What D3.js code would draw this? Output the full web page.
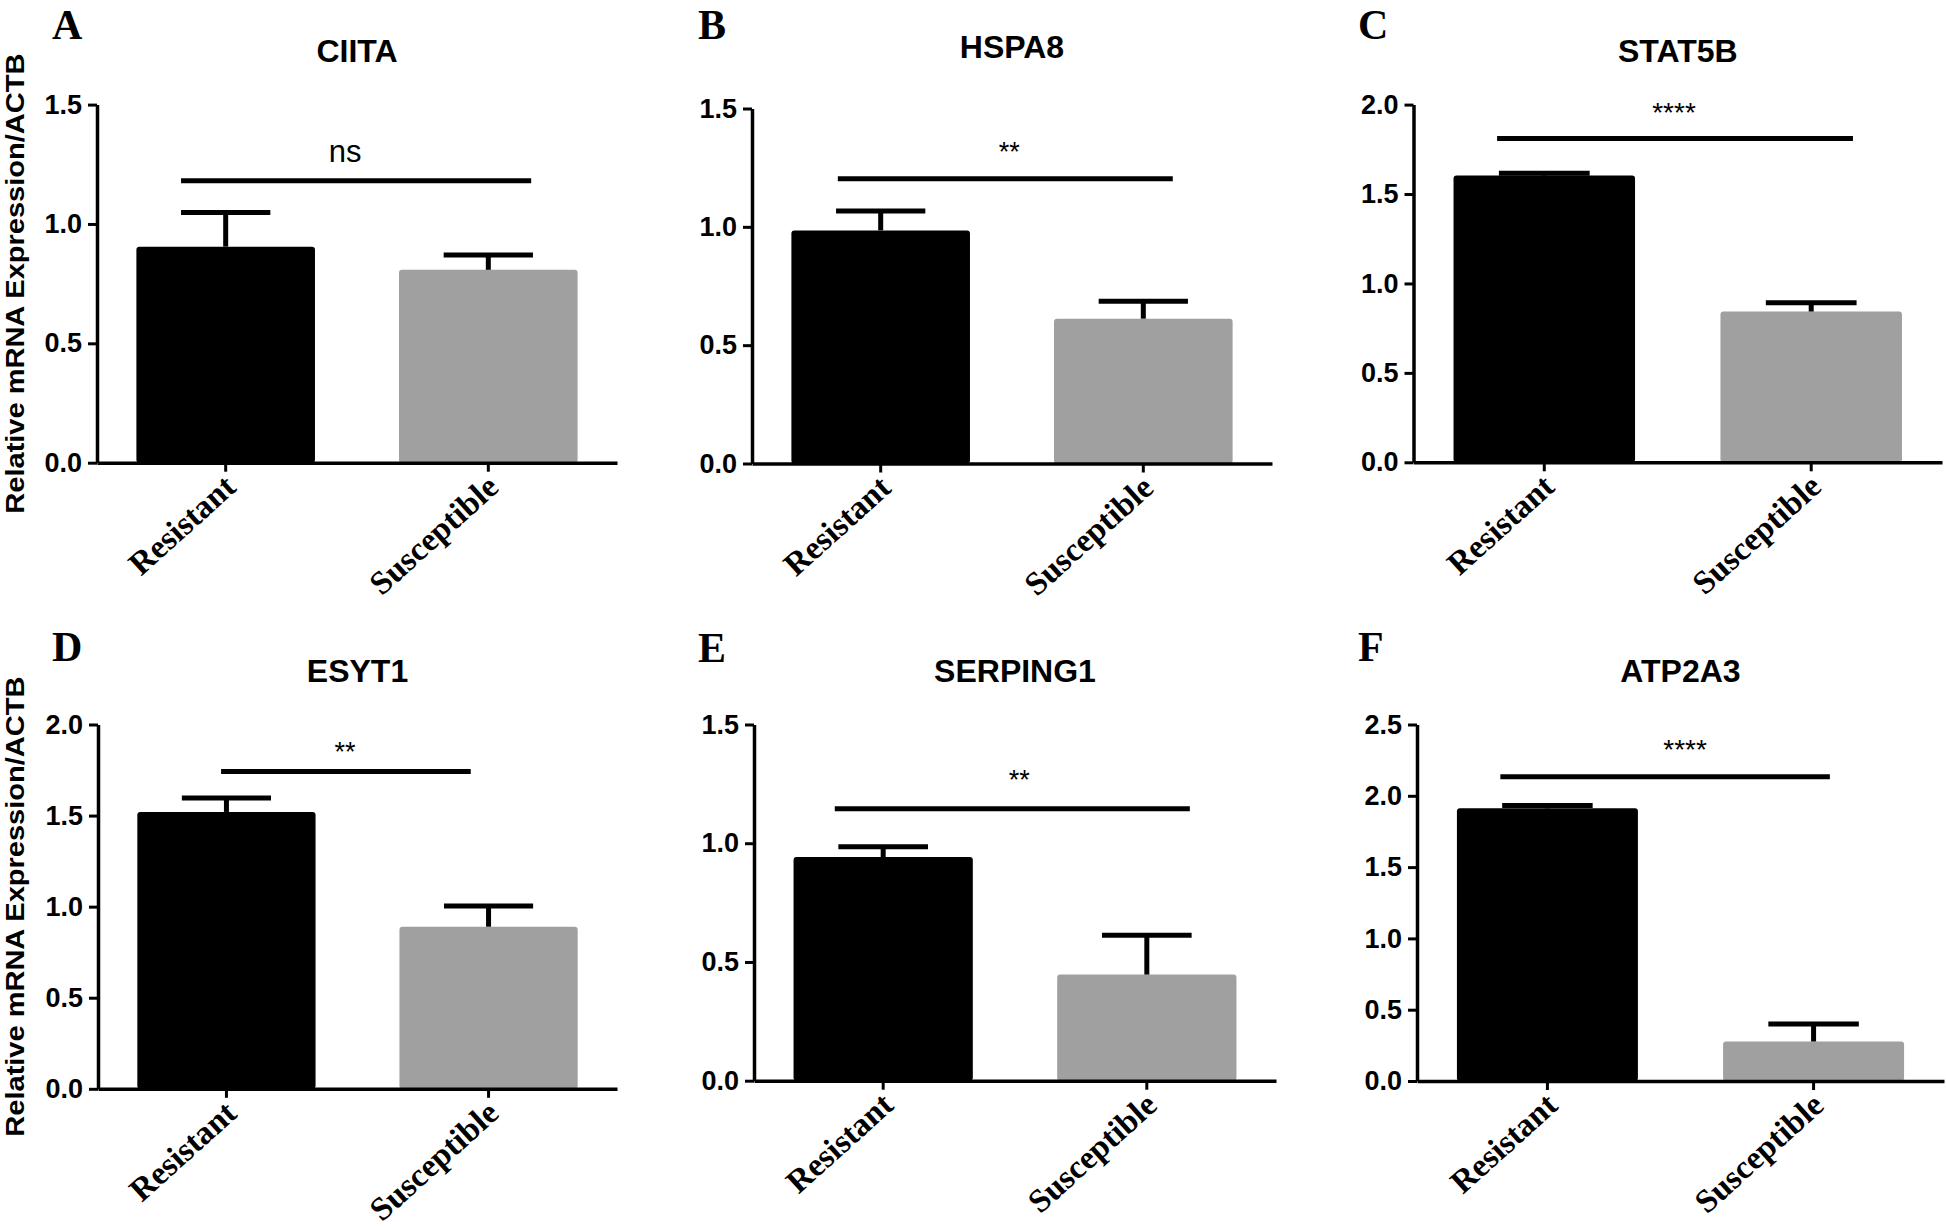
<!DOCTYPE html>
<html>
<head>
<meta charset="utf-8">
<script src="https://cdn.jsdelivr.net/npm/d3@7"></script>
<style>
  html, body { margin: 0; padding: 0; background: #fff; }
  svg { display: block; }
</style>
</head>
<body>
<svg id="chart" width="1946" height="1227"></svg>
<script>
// ---------------- DATA ----------------
const genes = ["CIITA", "HSPA8", "STAT5B", "ESYT1", "SERPING1", "ATP2A3"];
const panelLetters = ["A", "B", "C", "D", "E", "F"];
const groups = ["Resistant", "Susceptible"];
const resistantMean = [0.905, 0.985, 1.603, 1.52, 0.942, 1.912];
const resistantSEM = [0.143, 0.082, 0.013, 0.076, 0.043, 0.02];
const susceptibleMean = [0.808, 0.612, 0.843, 0.890, 0.447, 0.277];
const susceptibleSEM = [0.062, 0.074, 0.049, 0.113, 0.165, 0.122];
const yMax = [1.5, 1.5, 2.0, 2.0, 1.5, 2.5];
const yTicks = [
  [0, 0.5, 1.0, 1.5],
  [0, 0.5, 1.0, 1.5],
  [0, 0.5, 1.0, 1.5, 2.0],
  [0, 0.5, 1.0, 1.5, 2.0],
  [0, 0.5, 1.0, 1.5],
  [0, 0.5, 1.0, 1.5, 2.0, 2.5]
];
const sigLabels = ["ns", "**", "****", "**", "**", "****"];
const sigLevel = [1.181, 1.203, 1.810, 1.742, 1.145, 2.134];
const yLabel = "Relative mRNA Expression/ACTB";

// ---------------- LAYOUT ----------------
const layout = [
  {x0: 97,     x1: 617,  yTop: 104.6, yBot: 462.7,  letterX: 52,   letterY: 39,  titleY: 62,  span: [-0.25, 0.24],  txtDx: -11, txtGap: 19, ylab: true},
  {x0: 752,    x1: 1272, yTop: 108.5, yBot: 463.5,  letterX: 698,  letterY: 39,  titleY: 58,  span: [-0.24, 0.165], txtDx: 4,   txtGap: 18, ylab: false},
  {x0: 1413.5, x1: 1942, yTop: 104.6, yBot: 462.3,  letterX: 1358, letterY: 39,  titleY: 62,  span: [-0.26, 0.23],  txtDx: -1,  txtGap: 17, ylab: false},
  {x0: 98,     x1: 617,  yTop: 724.5, yBot: 1088.8, letterX: 52,   letterY: 661, titleY: 682, span: [-0.03, -0.10], txtDx: -1,  txtGap: 10, ylab: true},
  {x0: 754,    x1: 1276, yTop: 724.5, yBot: 1080.7, letterX: 698,  letterY: 662, titleY: 682, span: [-0.27, 0.24],  txtDx: 7,   txtGap: 20, ylab: false},
  {x0: 1417,   x1: 1944, yTop: 724.5, yBot: 1081,   letterX: 1358, letterY: 661, titleY: 682, span: [-0.26, 0.09],  txtDx: 20,  txtGap: 18, ylab: false}
];
const barColors = ["#000000", "#a0a0a0"];
const sansFont = "Arial, 'Liberation Sans', Helvetica, sans-serif";
const serifFont = "'Times New Roman', 'Liberation Serif', Times, serif";

const svg = d3.select("#chart");

genes.forEach((gene, i) => {
  const L = layout[i];
  const g = svg.append("g");
  const means = [resistantMean[i], susceptibleMean[i]];
  const sems = [resistantSEM[i], susceptibleSEM[i]];

  const x = d3.scaleBand().domain(groups).range([L.x0, L.x1])
    .paddingInner(0.32).paddingOuter(0.15);
  const y = d3.scaleLinear().domain([0, yMax[i]]).range([L.yBot, L.yTop]);
  const bw = x.bandwidth();
  const cx = d => x(d) + bw / 2;

  // bars
  g.selectAll("rect.bar").data(groups).join("rect")
    .attr("class", "bar")
    .attr("x", d => x(d))
    .attr("width", bw)
    .attr("y", (d, k) => y(means[k]))
    .attr("height", (d, k) => y(0) - y(means[k]))
    .attr("rx", 3)
    .attr("fill", (d, k) => barColors[k]);

  // error bars (upper only)
  g.selectAll("line.stem").data(groups).join("line")
    .attr("class", "stem")
    .attr("x1", d => cx(d)).attr("x2", d => cx(d))
    .attr("y1", (d, k) => y(means[k]))
    .attr("y2", (d, k) => y(means[k] + sems[k]))
    .attr("stroke", "#000").attr("stroke-width", 5);
  g.selectAll("line.cap").data(groups).join("line")
    .attr("class", "cap")
    .attr("x1", d => cx(d) - bw * 0.25).attr("x2", d => cx(d) + bw * 0.25)
    .attr("y1", (d, k) => y(means[k] + sems[k]))
    .attr("y2", (d, k) => y(means[k] + sems[k]))
    .attr("stroke", "#000").attr("stroke-width", 5);

  // y axis
  const yAxis = g.append("g")
    .attr("transform", `translate(${L.x0},0)`)
    .call(d3.axisLeft(y).tickValues(yTicks[i]).tickFormat(d3.format(".1f"))
      .tickSize(9).tickSizeOuter(0).tickPadding(6));
  yAxis.select(".domain").attr("stroke", "#000").attr("stroke-width", 3.5);
  yAxis.selectAll(".tick line").attr("stroke", "#000").attr("stroke-width", 3);
  yAxis.selectAll(".tick text")
    .attr("fill", "#000")
    .style("font-family", sansFont).style("font-weight", "bold").style("font-size", "27px");

  // x axis
  const xAxis = g.append("g")
    .attr("transform", `translate(0,${L.yBot})`)
    .call(d3.axisBottom(x).tickSize(9).tickSizeOuter(0).tickFormat(""));
  xAxis.select(".domain").attr("stroke", "#000").attr("stroke-width", 3.5);
  xAxis.selectAll(".tick line").attr("stroke", "#000").attr("stroke-width", 3);

  // rotated category labels
  g.selectAll("text.cat").data(groups).join("text")
    .attr("class", "cat")
    .attr("transform", d => `translate(${cx(d) + 12},${L.yBot + 27}) rotate(-42)`)
    .attr("text-anchor", "end")
    .style("font-family", serifFont).style("font-weight", "bold").style("font-size", "33px")
    .attr("fill", "#000")
    .text(d => d);

  // significance line + label
  const sx1 = cx(groups[0]) + L.span[0] * bw;
  const sx2 = cx(groups[1]) + L.span[1] * bw;
  const sy = y(sigLevel[i]);
  g.append("line")
    .attr("x1", sx1).attr("x2", sx2).attr("y1", sy).attr("y2", sy)
    .attr("stroke", "#000").attr("stroke-width", 5);
  const isNs = sigLabels[i] === "ns";
  g.append("text")
    .attr("x", (sx1 + sx2) / 2 + L.txtDx)
    .attr("y", sy - L.txtGap)
    .attr("text-anchor", "middle")
    .style("font-family", sansFont)
    .style("font-size", isNs ? "31px" : (sigLabels[i].length > 2 ? "28px" : "27px"))
    .attr("fill", "#000")
    .text(sigLabels[i]);

  // title
  g.append("text")
    .attr("x", (L.x0 + L.x1) / 2)
    .attr("y", L.titleY)
    .attr("text-anchor", "middle")
    .style("font-family", sansFont).style("font-weight", "bold").style("font-size", "32px")
    .attr("fill", "#000")
    .text(gene);

  // panel letter
  g.append("text")
    .attr("x", L.letterX)
    .attr("y", L.letterY)
    .style("font-family", serifFont).style("font-weight", "bold").style("font-size", "42px")
    .attr("fill", "#000")
    .text(panelLetters[i]);

  // y axis label
  if (L.ylab) {
    g.append("text")
      .attr("transform", `translate(24,${(L.yTop + L.yBot) / 2}) rotate(-90)`)
      .attr("text-anchor", "middle")
      .attr("textLength", 460)
      .attr("lengthAdjust", "spacingAndGlyphs")
      .style("font-family", sansFont).style("font-weight", "bold").style("font-size", "26px")
      .attr("fill", "#000")
      .text(yLabel);
  }
});
</script>
</body>
</html>
